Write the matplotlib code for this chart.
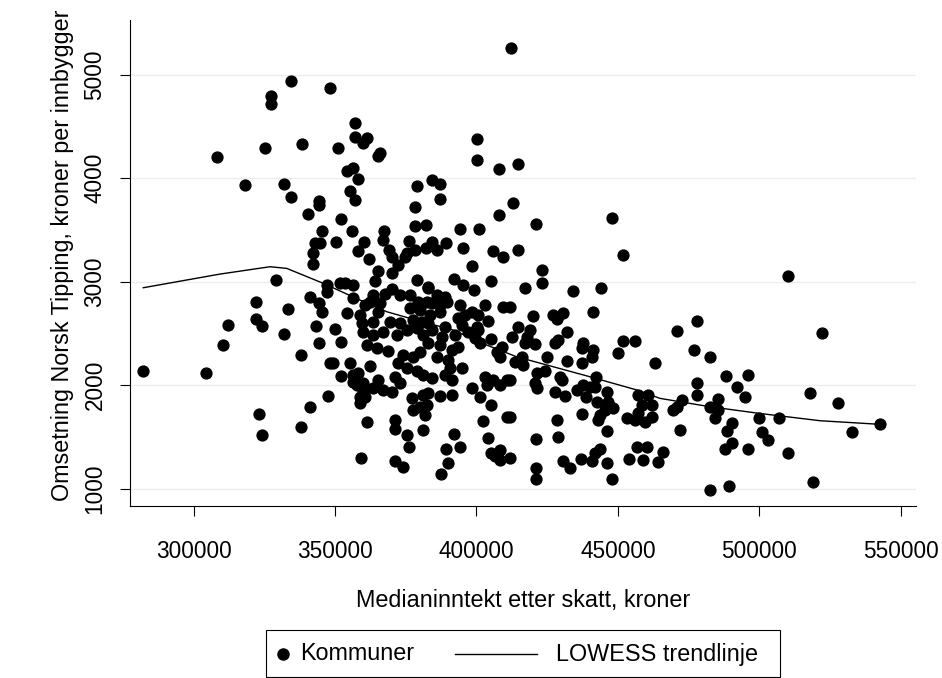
import matplotlib.pyplot as plt
from matplotlib.lines import Line2D
from matplotlib.patches import Rectangle

plt.rcParams['font.family'] = ['Liberation Sans', 'DejaVu Sans']

# Medianinntekt etter skatt (kroner) og omsetning per innbygger (kroner), en rad per kommune
inntekt = [
    334300, 348200, 327200, 327200, 308300, 325200, 338200, 318200, 332000, 334300,
    344200, 344200, 340300, 345300, 342900, 344700, 342100, 342200, 329100, 322000,
    341200, 344200, 345300, 333200, 312200, 322000, 324300, 343100, 332000, 310300,
    344200, 338000, 282200, 304300, 348200, 347600, 341100, 323200, 338000, 324300,
    412100, 357100, 357100, 361200, 360000, 351100, 365900, 365300, 400100, 400100,
    408100, 414800, 354100, 356200, 358200, 355300, 357100, 379100, 384200, 387100,
    387100, 378300, 352200, 356100, 378300, 382100, 367200, 367000, 394200, 401000,
    408100, 413000, 350200, 360200, 358200, 369200, 370000, 376200, 378300, 375300,
    384200, 382100, 385900, 389100, 395100, 405900, 409300, 414800, 362100, 421000,
    448000, 451900, 423100, 423100, 417100, 434000, 444000, 411800, 420100, 427200,
    430700, 428400, 441100, 418900, 417700, 417100, 420700, 412400, 431900, 428900,
    427800, 437800, 437200, 440700, 441300, 425000, 416000, 416500, 432100, 437200,
    450100, 451900, 456000, 463100, 470800, 478100, 477000, 482600, 424200, 421300,
    420700, 421300, 429500, 430100, 442300, 411800, 427800, 431300, 435400, 437800,
    440100, 441900, 438700, 442600, 446000, 446500, 445400, 443700, 443000, 437200,
    428400, 448400, 446000, 428900, 421000, 411800, 453100, 457200, 460700, 458400,
    462000, 457200, 459600, 462000, 456000, 470800, 472600, 469600, 472000, 477900,
    477900, 482600, 456600, 460200, 466100, 454000, 459000, 464100, 443700, 441900,
    440700, 446000, 436900, 430700, 433100, 411800, 421000, 421000, 448000, 482600,
    510000, 522100, 488100, 496100, 492000, 494900, 485400, 485400, 484300, 500000,
    507000, 490500, 488700, 500800, 503200, 490500, 487900, 496100, 510000, 517900,
    527900, 532900, 542800, 519100, 489300, 365300, 364100, 370000, 378900, 383000,
    398300, 392200, 395300, 399100, 405100, 347000, 347000, 351700, 353500, 356400,
    356200, 354100, 350000, 352100, 349200, 355300, 352100, 356400, 358200, 357600,
    360000, 362300, 358800, 360600, 358800, 361200, 359100, 371200, 371200, 375300,
    376200, 371200, 374100, 381200, 377700, 380000, 382400, 381800, 383000, 387100,
    391200, 398300, 401200, 405000, 402200, 404200, 410900, 392200, 389200, 394200,
    390000, 387300, 405000, 408300, 408300, 406500, 372300, 374700, 370000, 367600,
    363500, 362300, 372900, 376500, 379400, 382400, 360600, 365900, 365300, 358800,
    359400, 363500, 369400, 372900, 377700, 380600, 376500, 380000, 383000, 385900,
    388900, 384200, 387100, 387100, 383600, 389500, 394200, 403000, 409500, 398300,
    400600, 395900, 393600, 404000, 383000, 388900, 394800, 400100, 414800, 361200,
    364700, 368800, 360000, 363500, 367000, 371800, 375300, 378900, 381200, 374100,
    377700, 380000, 372300, 375300, 378900, 381200, 356400, 365300, 371200, 372900,
    360000, 363500, 367000, 370000, 377100, 381200, 384200, 387700, 383000, 387100,
    392400, 393600, 391200, 397100, 400600, 399500, 401200, 405100, 408900, 407100,
    408300, 413600, 385900, 390000, 394800, 390600, 388900, 391200, 384200, 403000,
    405900, 410700, 408300, 403600,
]
omsetning = [
    4939, 4869, 4794, 4717, 4208, 4292, 4328, 3937, 3941, 3822,
    3780, 3741, 3651, 3490, 3371, 3377, 3274, 3171, 3017, 2807,
    2855, 2791, 2710, 2739, 2579, 2637, 2569, 2572, 2492, 2386,
    2405, 2292, 2140, 2121, 2215, 1899, 1790, 1722, 1593, 1516,
    5255, 4536, 4401, 4386, 4337, 4295, 4247, 4215, 4376, 4173,
    4089, 4135, 4073, 4096, 3995, 3879, 3790, 3928, 3980, 3944,
    3796, 3725, 3603, 3487, 3541, 3548, 3493, 3403, 3506, 3509,
    3648, 3758, 3381, 3381, 3297, 3306, 3242, 3396, 3306, 3274,
    3387, 3329, 3306, 3377, 3329, 3297, 3242, 3306, 3217, 3555,
    3613, 3258, 3113, 2985, 2936, 2910, 2942, 2759, 2672, 2678,
    2695, 2637, 2704, 2533, 2469, 2405, 2398, 2463, 2517, 2437,
    2411, 2405, 2357, 2275, 2340, 2270, 2275, 2195, 2237, 2212,
    2314, 2430, 2430, 2218, 2527, 2620, 2340, 2270, 2140, 2115,
    2018, 1970, 2082, 2050, 2082, 2050, 1937, 1899, 1954, 2002,
    1985, 1985, 1889, 1841, 1937, 1841, 1761, 1712, 1664, 1722,
    1664, 1779, 1553, 1504, 1478, 1696, 1680, 1905, 1905, 1809,
    1809, 1729, 1648, 1696, 1664, 1790, 1857, 1761, 1567, 2018,
    1905, 1790, 1406, 1406, 1358, 1287, 1277, 1261, 1381, 1342,
    1271, 1245, 1284, 1271, 1197, 1294, 1197, 1091, 1091, 988,
    3055, 2502, 2089, 2099, 1985, 1889, 1864, 1761, 1680, 1680,
    1680, 1632, 1561, 1551, 1471, 1446, 1384, 1381, 1348, 1922,
    1825, 1551, 1622, 1068, 1026, 3106, 3010, 3087, 3017, 2952,
    3152, 3023, 2968, 2920, 3007, 2968, 2903, 2985, 2991, 2968,
    2840, 2700, 2540, 2415, 2212, 2218, 2090, 2099, 2115, 2002,
    2018, 2181, 1891, 1891, 1827, 1642, 1300, 1664, 1577, 1516,
    1400, 1271, 1207, 1567, 1761, 1793, 1809, 1712, 1922, 1896,
    1905, 1976, 1891, 1809, 1656, 1486, 1696, 1528, 1381, 1400,
    1245, 1139, 1342, 1374, 1277, 1313, 3161, 3242, 2934, 2885,
    2872, 2807, 2872, 2872, 2807, 2807, 2775, 2791, 2710, 2678,
    2598, 2614, 2614, 2598, 2630, 2614, 2743, 2727, 2936, 2872,
    2855, 2791, 2775, 2710, 2678, 2807, 2775, 2775, 2759, 2710,
    2678, 2678, 2646, 2620, 2598, 2565, 2582, 2565, 2565, 2389,
    2357, 2330, 2517, 2485, 2517, 2485, 2533, 2549, 2485, 2292,
    2275, 2324, 2212, 2166, 2133, 2099, 2034, 2050, 2079, 2018,
    1954, 1970, 1954, 1937, 1877, 1905, 2533, 2469, 2405, 2389,
    2485, 2372, 2340, 2517, 2533, 2453, 2405, 2446, 2372, 2324,
    2275, 2227, 2273, 2244, 2166, 2166, 2099, 2050, 2066, 2082,
    2050, 2050, 2002, 2002,
]

# LOWESS-kurven slik den er lest av figuren
lowess_x = [282200, 309300, 327000, 332900, 345800, 358800, 368300, 376500, 391800,
            403600, 414200, 440100, 456700, 464900, 482600, 500000, 521500, 542800]
lowess_y = [2942, 3074, 3145, 3129, 2985, 2823, 2710, 2646, 2533,
            2388, 2275, 2082, 1954, 1873, 1792, 1728, 1657, 1622]

x_ticks = [300000, 350000, 400000, 450000, 500000, 550000]
y_ticks = [1000, 2000, 3000, 4000, 5000]

W, H = 942, 678


def fx(px):
    return px / W


def fy(py):
    return 1 - py / H


fig = plt.figure(figsize=(W / 100, H / 100), dpi=100)
fig.patch.set_facecolor('white')
ax = fig.add_axes([fx(130), fy(505.7), 786 / W, 485.7 / H])

ax.scatter(inntekt, omsetning, s=78, color='black', linewidths=0, zorder=3)
ax.plot(lowess_x, lowess_y, color='black', lw=1.0, zorder=4)

ax.set_xlim(277500, 555400)
ax.set_ylim(836, 5529)
ax.set_xticks(x_ticks)
ax.set_yticks(y_ticks)
ax.ticklabel_format(style='plain', useOffset=False)
ax.grid(axis='y', color='#e6eef0', lw=1.0)
ax.set_axisbelow(True)

for s in ['top', 'right']:
    ax.spines[s].set_visible(False)
for s in ['left', 'bottom']:
    ax.spines[s].set_linewidth(0.8)

ax.tick_params(axis='both', length=7, width=0.8, labelsize=16.3)
ax.tick_params(axis='x', pad=18)
ax.tick_params(axis='y', pad=10, labelrotation=90)
for lab in ax.get_yticklabels():
    lab.set_va('center')

ax.set_xlabel('Medianinntekt etter skatt, kroner', fontsize=16.8)
ax.set_ylabel('Omsetning Norsk Tipping, kroner per innbygger', fontsize=16.8)
ax.xaxis.set_label_coords(0.5, -(589 - 505.7) / 485.7)
ax.yaxis.set_label_coords(-(130 - 74) / 786, (505.7 - 255) / 485.7)

# legend drawn by hand to place the key like the original
ly = 654
fig.add_artist(Rectangle((fx(266), fy(677)), (780 - 266) / W, 47 / H,
                         transform=fig.transFigure, fill=False, ec='black', lw=0.8))
fig.add_artist(Line2D([fx(283)], [fy(ly)], marker='o', ms=8, color='black',
                      ls='none', transform=fig.transFigure))
fig.text(fx(300), fy(ly), 'Kommuner', fontsize=16.8, va='center', ha='left')
fig.add_artist(Line2D([fx(455), fx(537)], [fy(ly), fy(ly)], color='black', lw=1.0,
                      transform=fig.transFigure))
fig.text(fx(556), fy(ly), 'LOWESS trendlinje', fontsize=16.8, va='center', ha='left')

fig.savefig('out.png', dpi=100)
